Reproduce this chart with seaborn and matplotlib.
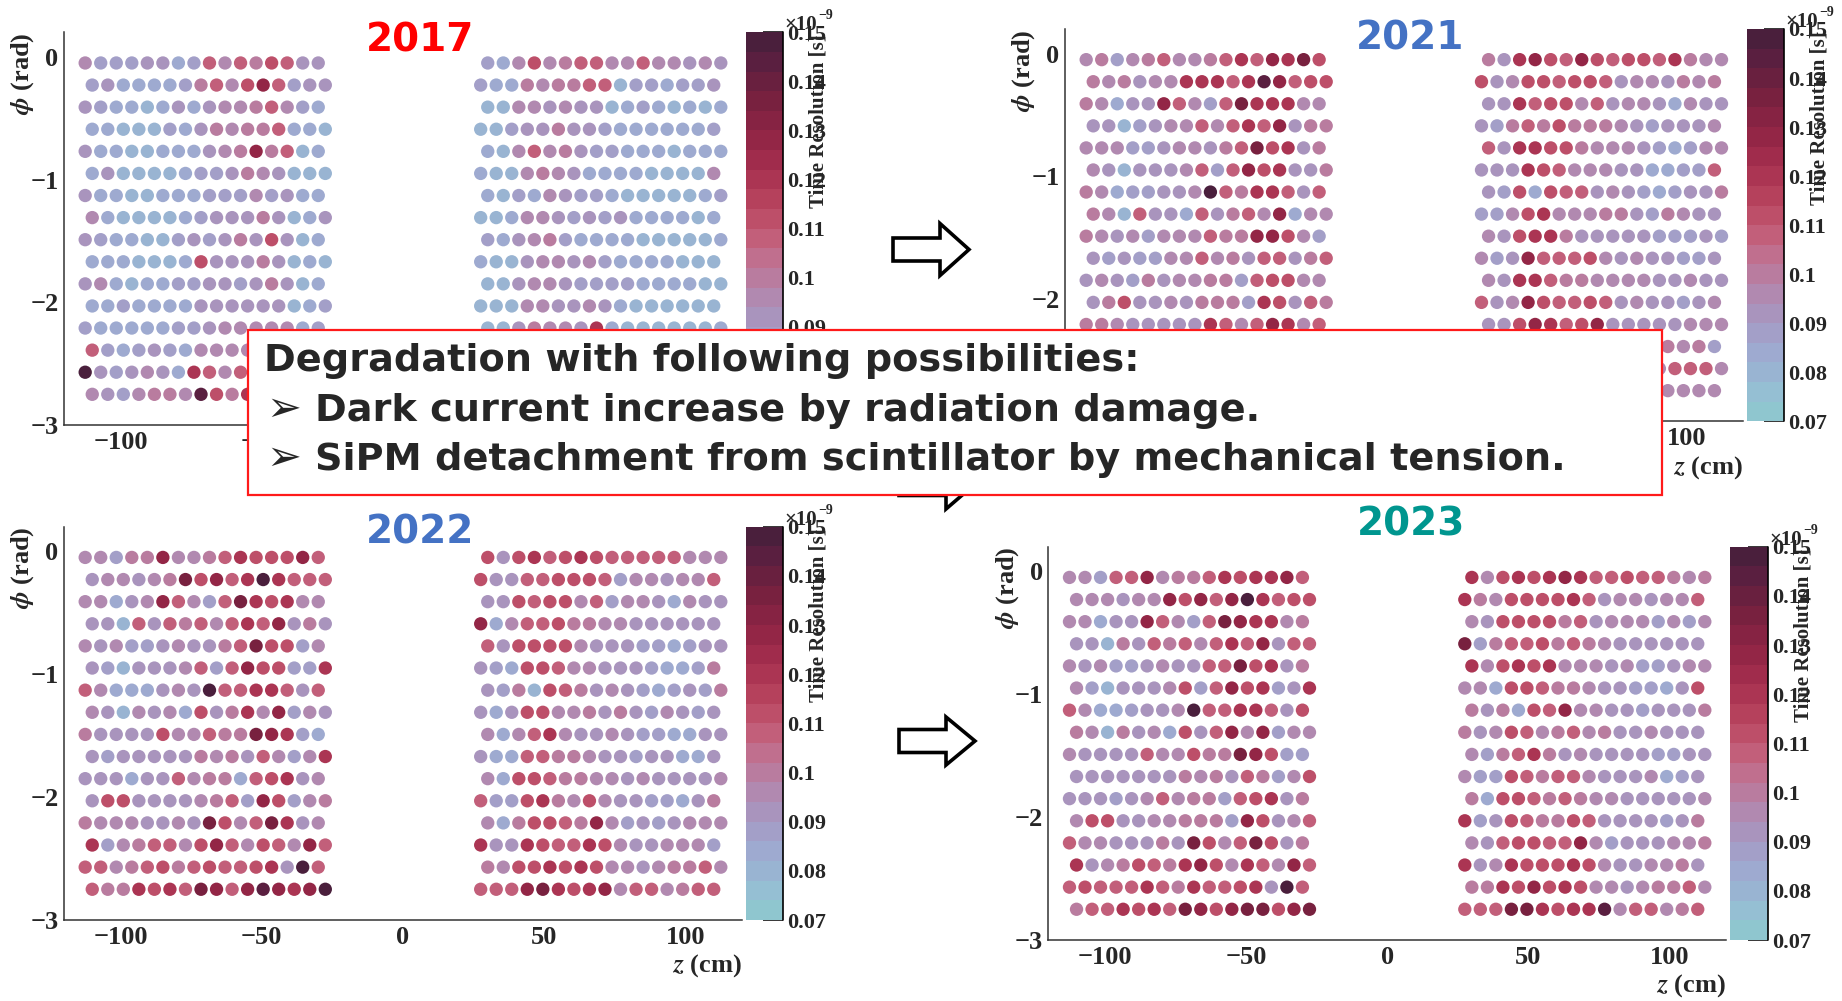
import numpy as np
import pandas as pd
import matplotlib
matplotlib.use("Agg")
import matplotlib.pyplot as plt
import seaborn as sns
from matplotlib.colors import ListedColormap, Normalize
from matplotlib.cm import ScalarMappable
from matplotlib.patches import Rectangle, Polygon
from matplotlib.ticker import MultipleLocator, FixedLocator

# ---------------------------------------------------------------- data
YEARS = ["2017", "2021", "2022", "2023"]
YEAR_COLORS = ["#ff0000", "#4472c4", "#4472c4", "#00968f"]

PHI_ROWS = [-0.05, -0.23, -0.41, -0.59, -0.77, -0.95, -1.13, -1.31,
            -1.49, -1.67, -1.85, -2.03, -2.21, -2.39, -2.57, -2.75]
Z_LEFT_EVEN = [-112.5, -107.0, -101.5, -96.0, -90.5, -85.0, -79.5, -74.0,
               -68.5, -63.0, -57.5, -52.0, -46.5, -41.0, -35.5, -30.0]
Z_LEFT_ODD = [-110.0, -104.5, -99.0, -93.5, -88.0, -82.5, -77.0, -71.5,
              -66.0, -60.5, -55.0, -49.5, -44.0, -38.5, -33.0, -27.5]
Z_RIGHT_EVEN = [30.0, 35.5, 41.0, 46.5, 52.0, 57.5, 63.0, 68.5,
                74.0, 79.5, 85.0, 90.5, 96.0, 101.5, 107.0, 112.5]
Z_RIGHT_ODD = [27.5, 33.0, 38.5, 44.0, 49.5, 55.0, 60.5, 66.0,
               71.5, 77.0, 82.5, 88.0, 93.5, 99.0, 104.5, 110.0]

# time resolution per counter, coded (see CODE_VALUES), one string per phi row:
# 16 counters at z<0, then 16 counters at z>0
CODE_VALUES = {"0": 0.079, "1": 0.085, "2": 0.089, "3": 0.093, "4": 0.097,
               "5": 0.101, "6": 0.108, "7": 0.113, "8": 0.121, "9": 0.128,
               "A": 0.135, "B": 0.143, "C": 0.148}

RES_2017 = [
    "4222331264657633 2147456644644343",
    "2311112564796233 2115455660221223",
    "3211013134456421 0044343301210101",
    "1100021354556110 0023353321111112",
    "3110011134595601 1046453221110111",
    "1300001223543000 1004543111100004",
    "3110011122242311 1021432210000012",
    "4100001233353013 0014432323111101",
    "3211002323537301 2134521111000001",
    "1110001733353010 1003443421111000",
    "3410112233235301 0034432222111100",
    "1121111333333012 0004433431000000",
    "2111112234444412 0035443810000001",
    "6212321444443322 1024433321001011",
    "C323431864654433 0134543421100101",
    "4324554B75865544 1134454321110011",
]
RES_2021 = [
    "45245644568698A7 5389769767768544",
    "54534488868B9677 7347767763443545",
    "5413396426A88844 3386774634431433",
    "3302344646869355 3256575554323334",
    "44422344356A7835 6388775444321244",
    "4303334626978335 3338764443311226",
    "54122334C6588636 3271766343212335",
    "5406331635649144 2247844455325433",
    "5434244465599742 4378853333322232",
    "3232244645366356 4239666743433223",
    "3432534455267744 4388655444433433",
    "3573343555287365 6349766763433234",
    "5543333386469846 3379867933333444",
    "7244564686466485 7338766764335452",
    "55445645655673B5 4477877644346664",
    "54476759858A878B 5569987894554444",
]
RES_2022 = [
    "4425594456877796 7378678766666444",
    "344345A7968C8666 7336677762443446",
    "4413496426A87844 3376774624431433",
    "3306365646869353 9146675544333333",
    "43422343356A7724 6377774333221233",
    "3203334626977228 3217764433321125",
    "64111343C6688636 3250765343212325",
    "4304341735849243 3137744535324323",
    "53333744655A9821 4146843343221133",
    "3233333545364248 3116655433233113",
    "3331336455167834 4177655443433334",
    "3773333456297245 6227854743322135",
    "54443343A746A834 4157765942323444",
    "8245664796476496 8338766874334442",
    "66456756766783C6 5477878744345564",
    "6558786A969B989C 6669A87894664566",
]
RES_2023 = [
    "4426694556878896 8478789866766545",
    "44434497969C8677 8547777863443446",
    "4413396426A98845 4377775634442424",
    "3305365646869366 A256675654333333",
    "43422343366A7835 8478784443422344",
    "4203334726978238 4417765543322137",
    "64112334C6688637 5351769443323335",
    "5405341736949244 5347645645334333",
    "43333644755A9722 4256853433332233",
    "3333333545365247 4227656643334123",
    "3332346455267835 5177656544333334",
    "4773344555297346 8237655763333235",
    "64433353A746A735 4367766942333445",
    "8345765897486496 8348777874334453",
    "67666865866783C6 5587978744345564",
    "5668786A979AA79A 666AA8788B466456",
]
RES_CODES = [RES_2017, RES_2021, RES_2022, RES_2023]

X_TICKS = [-100, -50, 0, 50, 100]
Y_TICKS = [0, -1, -2, -3]
CBAR_TICKS = [0.07, 0.08, 0.09, 0.10, 0.11, 0.12, 0.13, 0.14, 0.15]
CBAR_LABELS = ["0.07", "0.08", "0.09", "0.1", "0.11", "0.12", "0.13", "0.14", "0.15"]

# 20-step palette (0.07 -> 0.15)
PALETTE_COLORS = ["#8fc6cf", "#95bfd3", "#99b4d2", "#9eaad0", "#a39fc8",
                  "#a994bd", "#b189b0", "#b97c9f", "#c06f8e", "#c25f7a",
                  "#bd4f69", "#b5415c", "#ab3553", "#a02c4c", "#932646",
                  "#862343", "#78213f", "#69203f", "#5a1f40", "#4a1f3c"]

BOX_LINES = ["Degradation with following possibilities:",
             "Dark current increase by radiation damage.",
             "SiPM detachment from scintillator by mechanical tension."]

# ---------------------------------------------------------------- build table
records = []
for year, codes in zip(YEARS, RES_CODES):
    for r, line in enumerate(codes):
        left, right = line.split()
        zl = Z_LEFT_EVEN if r % 2 == 0 else Z_LEFT_ODD
        zr = Z_RIGHT_EVEN if r % 2 == 0 else Z_RIGHT_ODD
        for z, c in zip(zl + zr, left + right):
            records.append({"year": year, "z": z, "phi": PHI_ROWS[r],
                            "res": CODE_VALUES[c]})
df = pd.DataFrame(records)

# ---------------------------------------------------------------- style
sns.set_style("white")
plt.rcParams["font.family"] = ["Liberation Serif", "DejaVu Serif"]
plt.rcParams["font.weight"] = "bold"
plt.rcParams["mathtext.fontset"] = "stix"
plt.rcParams["axes.unicode_minus"] = True

W, H = 1842, 1001
fig = plt.figure(figsize=(W / 100, H / 100), dpi=100, facecolor="white")


def rect(l, t, r, b):
    return [l / W, 1 - b / H, (r - l) / W, (b - t) / H]


def fx(px):
    return px / W


def fy(py):
    return 1 - py / H


CMAP = ListedColormap(PALETTE_COLORS)
NORM = Normalize(0.07, 0.15)

# panel geometry in pixels: axes (l, t, r, b), colorbar (l, r), title centre
PANELS = {
    "2017": dict(ax=(64, 32.3, 742, 425), cb=(745.7, 783.3), title=(420, 40)),
    "2021": dict(ax=(1065, 29, 1742.7, 421.3), cb=(1746.7, 1784.3), title=(1410, 39)),
    "2022": dict(ax=(64, 526.7, 742, 920), cb=(746, 783.3), title=(420, 532)),
    "2023": dict(ax=(1048.3, 546.7, 1726, 940), cb=(1730, 1768.3), title=(1411, 524)),
}

AX_COLOR = "#333333"

for year, tcolor in zip(YEARS, YEAR_COLORS):
    g = PANELS[year]
    l, t, r, b = g["ax"]
    ax = fig.add_axes(rect(l, t, r, b))
    sub = df[df["year"] == year]
    sns.scatterplot(data=sub, x="z", y="phi", hue="res", palette=CMAP,
                    hue_norm=NORM, s=92, linewidth=0, legend=False, ax=ax)
    ax.set_xlim(-120, 120)
    ax.set_ylim(-3, 0.2)
    ax.set_xlabel("")
    ax.set_ylabel("")
    ax.set_facecolor("none")
    for side in ("top", "right"):
        ax.spines[side].set_visible(False)
    for side in ("left", "bottom"):
        ax.spines[side].set_color(AX_COLOR)
        ax.spines[side].set_linewidth(1.1)
    ax.xaxis.set_major_locator(FixedLocator(X_TICKS))
    ax.yaxis.set_major_locator(FixedLocator(Y_TICKS))
    ax.xaxis.set_minor_locator(MultipleLocator(10))
    ax.yaxis.set_minor_locator(MultipleLocator(0.2))
    ax.tick_params(axis="y", which="major", direction="in", length=14.4, width=1.1,
                   color=AX_COLOR, labelsize=19, pad=4)
    ax.tick_params(axis="y", which="minor", direction="in", length=7.2, width=1.1,
                   color=AX_COLOR)
    ax.tick_params(axis="x", which="major", direction="in", length=8.6, width=1.1,
                   color=AX_COLOR, labelsize=19, pad=4)
    ax.tick_params(axis="x", which="minor", direction="in", length=4.3, width=1.1,
                   color=AX_COLOR)

    # axis titles
    fig.text(fx(r), fy(b + 46), r"$z$ (cm)", ha="right", va="center", fontsize=19)
    fig.text(fx(l - 41), fy(t), r"$\phi$ (rad)", rotation=90, ha="center", va="top",
             fontsize=19)

    # colorbar
    cl, cr = g["cb"]
    cax = fig.add_axes(rect(cl, t, cr, b))
    cb = fig.colorbar(ScalarMappable(norm=NORM, cmap=CMAP), cax=cax)
    cb.outline.set_visible(False)
    cb.set_ticks(CBAR_TICKS, labels=CBAR_LABELS)
    cax.minorticks_off()
    cax.tick_params(axis="y", which="major", direction="in", length=14.4, width=1.1,
                    color="black", labelsize=16, pad=3, right=True, left=False)
    cax.plot([1, 1], [0, 1], transform=cax.transAxes, color="black", lw=1.2,
             clip_on=False)
    fig.text(fx(cr + 35), fy(t + 2), "Time Resolution [s]", rotation=90,
             ha="center", va="top", fontsize=15)
    fig.text(fx(cr + 1), fy(t - 2), "\u00d710", ha="left", va="baseline", fontsize=15)
    fig.text(fx(cr + 35), fy(t - 13), "\u22129", ha="left", va="baseline", fontsize=10)

    # year title
    tx, ty = g["title"]
    fig.text(fx(tx), fy(ty), year, ha="center", va="center", fontsize=28,
             color=tcolor, family=["DejaVu Sans"], weight="bold")


# hollow block arrows
def block_arrow(x0, x1, yc, shaft_h, head_h, head_len, z=5):
    pts = [(x0, yc - shaft_h / 2), (x1 - head_len, yc - shaft_h / 2),
           (x1 - head_len, yc - head_h / 2), (x1, yc),
           (x1 - head_len, yc + head_h / 2), (x1 - head_len, yc + shaft_h / 2),
           (x0, yc + shaft_h / 2)]
    pts = [(fx(x), fy(y)) for x, y in pts]
    fig.add_artist(Polygon(pts, closed=True, transform=fig.transFigure,
                           facecolor="white", edgecolor="black", lw=2.6,
                           joinstyle="miter", zorder=z))


block_arrow(893, 969, 249.5, 23, 52, 29)
block_arrow(899, 975, 741, 23, 48, 29)
block_arrow(899, 975, 484, 23, 50, 29, z=4)

# text box
fig.add_artist(Rectangle((fx(248), fy(495)), (1662 - 248) / W, (495 - 330) / H,
                         transform=fig.transFigure, facecolor="white",
                         edgecolor="#ff1a1a", lw=1.6, zorder=10))
fig.text(fx(264), fy(371), BOX_LINES[0], ha="left", va="baseline", fontsize=27.5,
         family=["DejaVu Sans"], weight="bold", zorder=11)
for yb, line in zip((421, 470), BOX_LINES[1:]):
    fig.text(fx(266), fy(yb), "\u27a2", ha="left", va="baseline", fontsize=30,
             family=["DejaVu Sans"], zorder=11)
    fig.text(fx(315), fy(yb), line, ha="left", va="baseline", fontsize=27.5,
             family=["DejaVu Sans"], weight="bold", zorder=11)

fig.savefig("out.png", dpi=100, facecolor="white")
